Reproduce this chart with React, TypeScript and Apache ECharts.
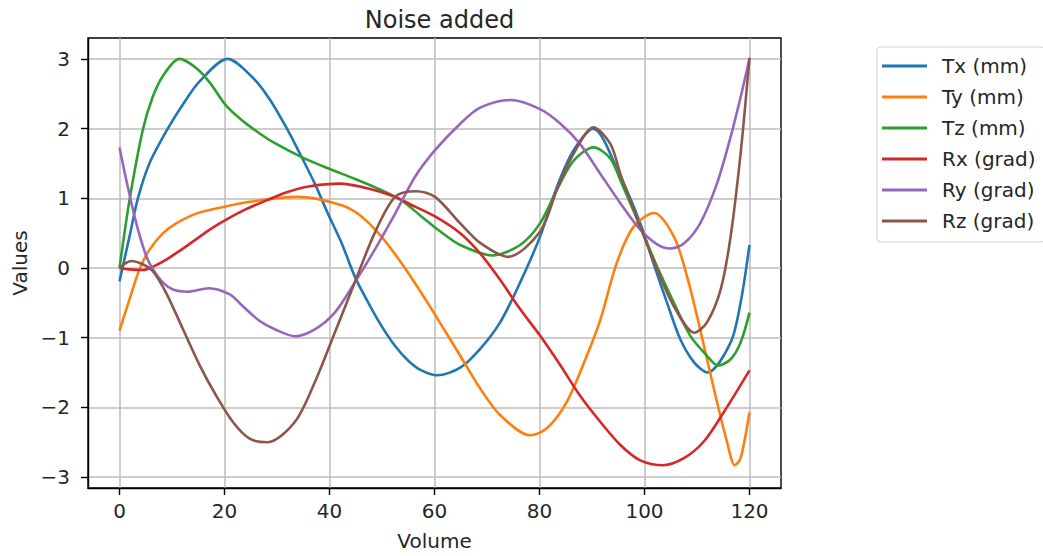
import React, { useEffect, useRef } from 'react';
import * as echarts from 'echarts';

const seriesNames = ['Tx (mm)', 'Ty (mm)', 'Tz (mm)', 'Rx (grad)', 'Ry (grad)', 'Rz (grad)'];
const colors = ['#1f77b4', '#ff7f0e', '#2ca02c', '#d62728', '#9467bd', '#8c564b'];

const txX = [0, 1.9, 3.5, 5.7, 9.2, 12.1, 15.3, 20.6, 25.4, 28.6, 32.1, 34.7, 37.2, 39.7, 42.3, 44.8, 47.4, 49.9, 52.5, 55, 57.5, 60.5, 64.9, 68.7, 72.5, 76.3, 80.1, 83.3, 86.5, 90.2, 95.4, 99.2, 101.7, 104.3, 106.8, 109.4, 112, 116.4, 118.3, 120];
const txY = [-0.19, 0.45, 1.0, 1.5, 2.0, 2.35, 2.68, 3.0, 2.73, 2.42, 1.97, 1.59, 1.21, 0.78, 0.36, -0.12, -0.5, -0.83, -1.12, -1.33, -1.47, -1.54, -1.43, -1.16, -0.78, -0.21, 0.45, 1.16, 1.69, 2.0, 1.31, 0.64, 0.07, -0.5, -1.02, -1.35, -1.5, -1.07, -0.5, 0.33];

const tyX = [0, 1.9, 3.8, 5.7, 8.3, 10.8, 14.6, 20, 24.8, 34, 42.3, 46.1, 49.9, 53.7, 57.5, 61, 64.9, 68.7, 72.5, 78.2, 81.4, 85.2, 89, 91.6, 94.7, 97.9, 101.8, 105.6, 108.1, 110.6, 113.2, 115.7, 117.2, 118.3, 120];
const tyY = [-0.9, -0.45, -0.02, 0.26, 0.5, 0.64, 0.78, 0.88, 0.95, 1.02, 0.9, 0.74, 0.45, 0.07, -0.36, -0.78, -1.26, -1.73, -2.11, -2.4, -2.3, -1.92, -1.26, -0.74, 0.07, 0.59, 0.79, 0.45, -0.12, -0.88, -1.73, -2.49, -2.83, -2.73, -2.07];

const tzX = [0, 1.9, 4.4, 6.3, 8.3, 11.4, 14.6, 17.2, 20.3, 23.5, 26.7, 29.6, 34.7, 39.7, 44.8, 48.6, 53.7, 57.5, 61, 64.9, 71, 76.3, 80.1, 83.3, 86.5, 90.3, 93.5, 95.4, 99.2, 102.4, 105.6, 108.7, 111.9, 114, 116.4, 118.3, 120];
const tzY = [0, 0.97, 1.97, 2.45, 2.76, 3.0, 2.87, 2.66, 2.33, 2.11, 1.93, 1.79, 1.59, 1.43, 1.28, 1.16, 0.97, 0.74, 0.53, 0.33, 0.18, 0.33, 0.64, 1.12, 1.54, 1.73, 1.57, 1.26, 0.59, 0.02, -0.5, -0.97, -1.26, -1.4, -1.31, -1.07, -0.64];

const rxX = [0, 1.9, 4.5, 6.4, 8.9, 12.7, 17.2, 20.5, 24, 28, 32, 36, 42, 47.4, 52.5, 56.3, 60.1, 64.9, 68.7, 72.5, 76.3, 80.1, 84, 87.7, 91.6, 95.4, 99.2, 103.6, 107.5, 111.3, 115.1, 120];
const rxY = [0, -0.02, -0.03, 0.02, 0.12, 0.31, 0.55, 0.7, 0.84, 0.97, 1.09, 1.17, 1.21, 1.14, 1.02, 0.88, 0.74, 0.5, 0.21, -0.17, -0.59, -0.97, -1.4, -1.83, -2.21, -2.54, -2.76, -2.83, -2.73, -2.49, -2.07, -1.47];

const ryX = [0, 1.3, 3.2, 5.1, 6.4, 8.3, 10.2, 13, 17, 21, 23.5, 26.7, 29.6, 33.4, 37.2, 41, 44.8, 48.6, 52.5, 56.3, 60.1, 64.9, 68.7, 74.5, 80.1, 84, 87.7, 91.6, 95.4, 99.2, 102.4, 104.9, 107.5, 110.6, 113.8, 116.4, 118.3, 120];
const ryY = [1.73, 1.26, 0.64, 0.17, -0.02, -0.21, -0.31, -0.34, -0.29, -0.38, -0.55, -0.76, -0.88, -0.98, -0.88, -0.64, -0.21, 0.26, 0.78, 1.31, 1.69, 2.07, 2.3, 2.41, 2.28, 2.07, 1.78, 1.35, 0.93, 0.55, 0.34, 0.28, 0.35, 0.64, 1.21, 1.88, 2.45, 3.0];

const rzX = [0, 2.2, 4.5, 6.4, 8.9, 12.1, 15.3, 18.4, 21.6, 24.8, 28.2, 33.4, 37.2, 41, 44.8, 48.6, 52.5, 56.5, 60.1, 64.9, 68.7, 74, 80.1, 83.3, 86.5, 90.3, 93.5, 95.4, 99.2, 102.4, 105.6, 109.5, 111.9, 114.5, 116.4, 118.3, 120];
const rzY = [0, 0.1, 0.05, -0.05, -0.36, -0.88, -1.4, -1.83, -2.21, -2.45, -2.5, -2.21, -1.64, -0.93, -0.21, 0.5, 1.02, 1.1, 1.02, 0.64, 0.36, 0.16, 0.52, 1.12, 1.64, 2.02, 1.78, 1.35, 0.59, -0.02, -0.55, -0.93, -0.78, -0.31, 0.45, 1.64, 3.02];

const xTicks = [0, 20, 40, 60, 80, 100, 120];
const yTicks = [-3, -2, -1, 0, 1, 2, 3];

const allX = [txX, tyX, tzX, rxX, ryX, rzX];
const allY = [txY, tyY, tzY, rxY, ryY, rzY];

const FONT = 'DejaVu Sans';
const TXT = '#262626';

export default function App() {
  const ref = useRef<HTMLDivElement>(null);
  useEffect(() => {
    if (!ref.current) return;
    const chart = echarts.init(ref.current, undefined, { renderer: 'svg' });
    const fmt = (v: number) => String(v).replace('-', '\u2212');
    chart.setOption({
      animation: false,
      backgroundColor: '#fff',
      textStyle: { fontFamily: FONT },
      title: {
        text: 'Noise added',
        left: 434.5,
        top: 3,
        textAlign: 'center',
        textStyle: { fontFamily: FONT, fontSize: 24, fontWeight: 'normal', color: TXT },
      },
      grid: { left: 88, right: 262, top: 38, bottom: 65, show: true, borderColor: '#000', borderWidth: 1.4, backgroundColor: 'transparent' },
      legend: {
        orient: 'vertical',
        left: 877,
        top: 47,
        padding: [9, 9, 11, 5],
        icon: 'rect',
        itemWidth: 45,
        itemHeight: 3,
        itemGap: 11,
        borderColor: '#d6d6d6',
        borderWidth: 1.2,
        borderRadius: 4,
        textStyle: { fontFamily: FONT, fontSize: 20, color: TXT, padding: [0, 0, 0, 10] },
        data: seriesNames,
      },
      xAxis: {
        type: 'value',
        min: -6,
        max: 126,
        name: 'Volume',
        nameLocation: 'middle',
        nameGap: 43,
        nameTextStyle: { fontFamily: FONT, fontSize: 20, color: TXT },
        axisLine: { show: true, onZero: false, lineStyle: { color: '#000', width: 1.4 } },
        axisTick: { show: true, length: 7, customValues: xTicks, lineStyle: { color: '#000', width: 1.4 } },
        axisLabel: { customValues: xTicks, margin: 13, fontFamily: FONT, fontSize: 20, color: TXT, formatter: fmt },
        splitLine: { show: true, lineStyle: { color: '#bdbdbd', width: 1.5 } },
      },
      yAxis: {
        type: 'value',
        min: -3.157,
        max: 3.3,
        name: 'Values',
        nameLocation: 'middle',
        nameGap: 57,
        nameTextStyle: { fontFamily: FONT, fontSize: 20, color: TXT },
        axisLine: { show: true, onZero: false, lineStyle: { color: '#000', width: 1.4 } },
        axisTick: { show: true, length: 7, customValues: yTicks, lineStyle: { color: '#000', width: 1.4 } },
        axisLabel: { customValues: yTicks, margin: 18, fontFamily: FONT, fontSize: 20, color: TXT, formatter: fmt },
        splitLine: { show: true, lineStyle: { color: '#bdbdbd', width: 1.5 } },
      },
      series: seriesNames.map((name, i) => ({
        name,
        type: 'line',
        smooth: 0.3,
        showSymbol: false,
        symbol: 'none',
        color: colors[i],
        lineStyle: { width: 2.6, color: colors[i] },
        data: allX[i].map((x, j) => [x, allY[i][j]]),
      })),
    });
    return () => chart.dispose();
  }, []);
  return <div ref={ref} style={{ position: 'absolute', left: 0, top: 0, width: 1043, height: 556 }} />;
}
